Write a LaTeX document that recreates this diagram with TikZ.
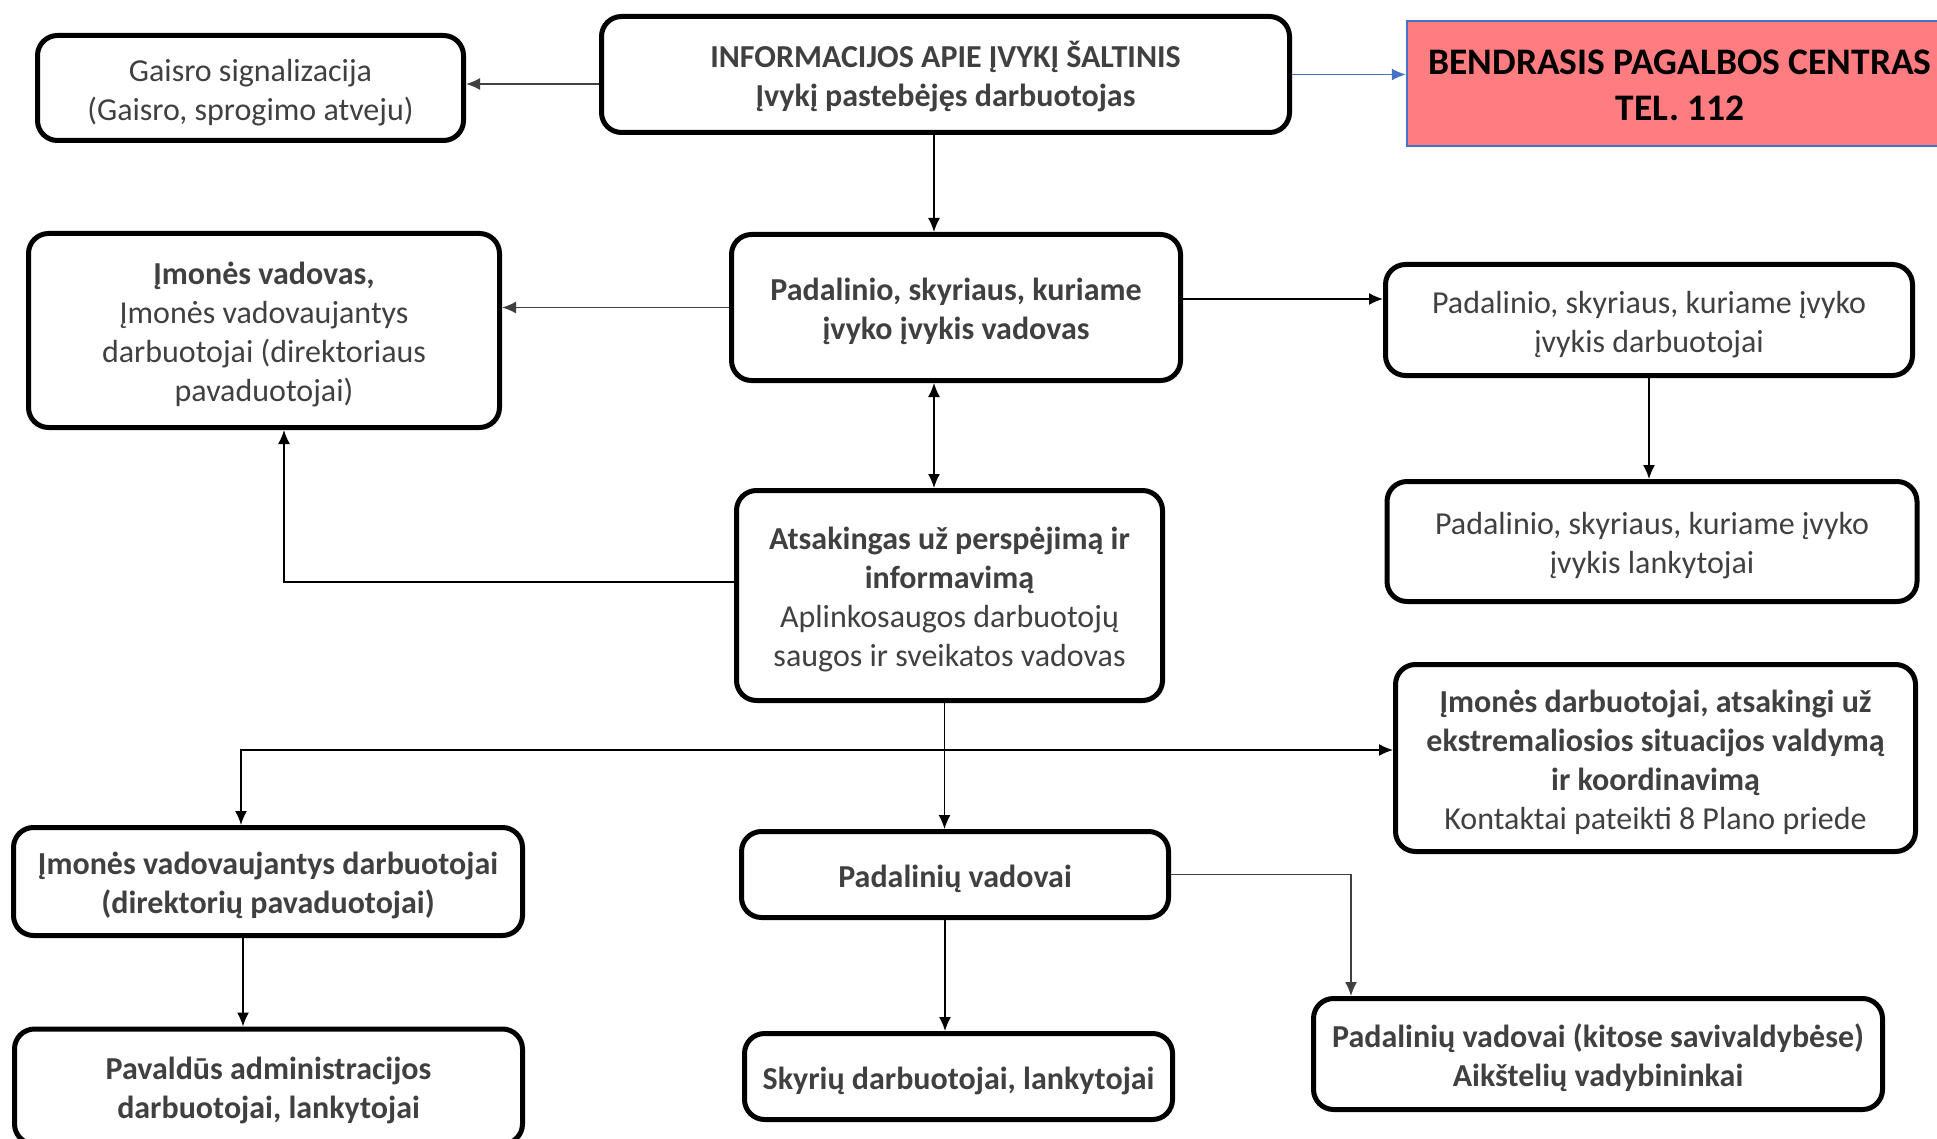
\documentclass[tikz,border=0pt]{standalone}
\usepackage{fontspec}
\setmainfont{Carlito}
\usetikzlibrary{arrows.meta}

\definecolor{txtgrey}{HTML}{404040}
\definecolor{alarmred}{HTML}{FF7C80}
\definecolor{lineblue}{HTML}{4472C4}

% centred lines, drawn a little low in their box
\newcommand{\boxlines}[1]{\raisebox{-5pt}[\height][\depth]{\begin{tabular}{@{}c@{}}#1\end{tabular}}}

\tikzset{
  tri/.tip={Latex[length=14pt,width=12pt]},
  card/.style={draw, line width=5pt, rounded corners=20pt,
    text=txtgrey, inner sep=0pt, font=\fontsize{32}{39}\selectfont},
  redcard/.style={draw=lineblue, fill=alarmred, line width=2.5pt,
    inner sep=0pt, font=\fontsize{37.5}{46}\selectfont},
  link/.style={line width=1.5pt, -tri},
}

\begin{document}
\begin{tikzpicture}[x=1pt,y=-1pt]
  \useasboundingbox (0,0) rectangle (1937,1139);
  \begin{scope}
    \clip (0,0) rectangle (1937,1139); % the red box runs off the right edge

    % top row
    \node[card, minimum width=688, minimum height=116] (info) at (945.5,74.5)
      {\boxlines{\bfseries INFORMACIJOS APIE ĮVYKĮ ŠALTINIS\\\bfseries Įvykį pastebėjęs darbuotojas}};
    \node[redcard, minimum width=546, minimum height=125] (centras) at (1680,83.5)
      {\boxlines{\bfseries BENDRASIS PAGALBOS CENTRAS\\\bfseries TEL. 112}};
    \node[card, minimum width=426, minimum height=105] (gaisro) at (250.5,88)
      {\boxlines{Gaisro signalizacija\\(Gaisro, sprogimo atveju)}};

    % second level
    \node[card, minimum width=449, minimum height=146] (vad) at (956,307.5)
      {\boxlines{\bfseries Padalinio, skyriaus, kuriame\\\bfseries įvyko įvykis vadovas}};
    \node[card, minimum width=471, minimum height=194] (vadovas) at (264,330.5)
      {\boxlines{\textbf{Įmonės vadovas,}\\Įmonės vadovaujantys\\darbuotojai (direktoriaus\\pavaduotojai)}};
    \node[card, minimum width=527, minimum height=111] (darb) at (1649,320)
      {\boxlines{Padalinio, skyriaus, kuriame įvyko\\įvykis darbuotojai}};
    \node[card, minimum width=530, minimum height=120] (lank) at (1652,541.5)
      {\boxlines{Padalinio, skyriaus, kuriame įvyko\\įvykis lankytojai}};

    % the one who warns
    \node[card, minimum width=426, minimum height=210] (ats) at (949.5,595.5)
      {\boxlines{\textbf{Atsakingas už perspėjimą ir}\\\textbf{informavimą}\\Aplinkosaugos darbuotojų\\saugos ir sveikatos vadovas}};
    \node[card, minimum width=520, minimum height=187] (ekstr) at (1655.5,758)
      {\boxlines{\textbf{Įmonės darbuotojai, atsakingi už}\\\textbf{ekstremaliosios situacijos valdymą}\\\textbf{ir koordinavimą}\\Kontaktai pateikti 8 Plano priede}};

    % lower rows
    \node[card, minimum width=509, minimum height=108] (ivad) at (268,881.5)
      {\boxlines{\bfseries Įmonės vadovaujantys darbuotojai\\\bfseries (direktorių pavaduotojai)}};
    \node[card, minimum width=427, minimum height=86] (pv) at (955,874.5)
      {\boxlines{\bfseries Padalinių vadovai}};
    \node[card, minimum width=428, minimum height=86] (sky) at (958.5,1076.5)
      {\boxlines{\bfseries Skyrių darbuotojai, lankytojai}};
    \node[card, minimum width=508, minimum height=115] (pav) at (268.5,1086.5)
      {\boxlines{\bfseries Pavaldūs administracijos\\\bfseries darbuotojai, lankytojai}};
    \node[card, minimum width=569, minimum height=111] (kit) at (1598,1054)
      {\boxlines{\bfseries Padalinių vadovai (kitose savivaldybėse)\\\bfseries Aikštelių vadybininkai}};

    % connectors
    \draw[link, txtgrey] ([yshift=4pt]info.west |- gaisro.east) -- ([yshift=4pt]gaisro.east);
    \draw[link, lineblue] (info.east) -- (info.east -| centras.west);
    \draw[link] ([xshift=-11.5pt]info.south) -- ([xshift=-11.5pt]info.south |- vad.north);
    \draw[link, txtgrey] (vad.west) -- (vad.west -| vadovas.east);
    \draw[link] ([yshift=8.5pt]vad.east) -- ([yshift=8.5pt]vad.east -| darb.west);
    \draw[link] (darb.south) -- (darb.south |- lank.north);
    \draw[link, tri-tri] ([xshift=-22pt]vad.south) -- ([xshift=-22pt]vad.south |- ats.north);
    \draw[link] ([yshift=13.5pt]ats.west) -| ([xshift=20pt]vadovas.south);
    \draw[link] ([xshift=-5pt]ats.south) -- ([xshift=-5pt]ats.south |- pv.north);
    \draw[link, tri-tri] ([xshift=-27pt]ivad.north) |- ([yshift=8pt]ekstr.west);
    \draw[link] ([xshift=-25pt]ivad.south) -- ([xshift=-25pt]ivad.south |- pav.north);
    \draw[link] ([xshift=-10pt]pv.south) -- ([xshift=-10pt]pv.south |- sky.north);
    \draw[link, txtgrey] (pv.east) -| ([xshift=40pt]kit.north west);
  \end{scope}
\end{tikzpicture}
\end{document}
